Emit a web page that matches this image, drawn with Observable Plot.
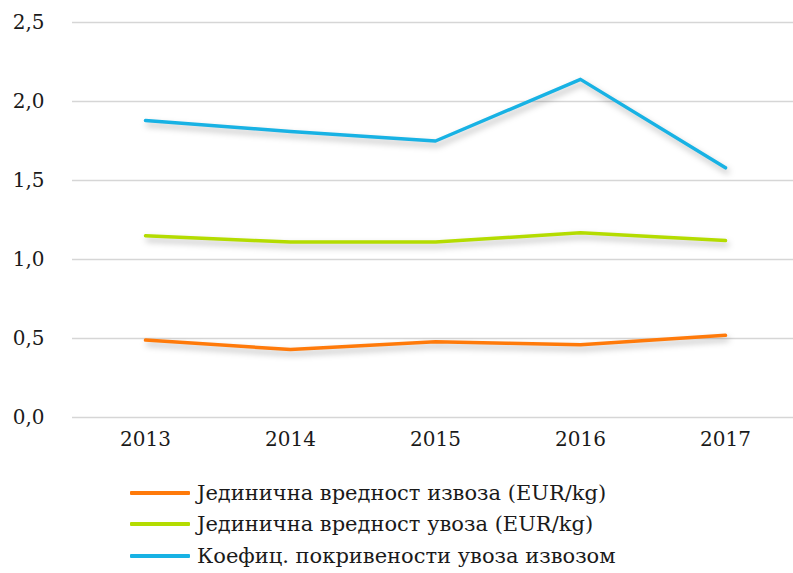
<!DOCTYPE html>
<html>
<head>
<meta charset="utf-8">
<script src="https://cdn.jsdelivr.net/npm/d3@7"></script>
<script src="https://cdn.jsdelivr.net/npm/@observablehq/plot@0.6"></script>
<style>
  body { margin: 0; background: #fff; }
  #chart { width: 793px; height: 573px; overflow: hidden; font-family: "DejaVu Serif", serif; color: #1a1a1a; }
  .legend { margin-left: 130px; margin-top: 15px; }
  .row { display: flex; align-items: center; height: 31.5px; font-size: 21px; white-space: nowrap; }
  .sw { width: 60px; height: 4px; margin-right: 7px; border-radius: 1px; }
</style>
</head>
<body>
<div id="chart"></div>
<script>
const years = ["2013", "2014", "2015", "2016", "2017"];
const seriesNames = [
  "Јединична вредност извоза (EUR/kg)",
  "Јединична вредност увоза (EUR/kg)",
  "Коефиц. покривености увоза извозом"
];
const exportValue = [0.49, 0.43, 0.48, 0.46, 0.52];
const importValue = [1.15, 1.11, 1.11, 1.17, 1.12];
const coverage = [1.88, 1.81, 1.75, 2.14, 1.58];
const yTicks = [0, 0.5, 1.0, 1.5, 2.0, 2.5];
const colors = ["#ff7a0a", "#b4dc00", "#18b2e4"];

const seriesValues = [exportValue, importValue, coverage];
const data = [];
seriesNames.forEach((s, i) => years.forEach((y, j) => data.push({series: s, year: y, value: seriesValues[i][j]})));

const fmt = d => d.toFixed(1).replace(".", ",");

const plot = Plot.plot({
  width: 793,
  height: 462,
  marginTop: 22,
  marginBottom: 45,
  marginLeft: 72,
  marginRight: 0,
  style: {fontFamily: "DejaVu Serif, serif", fontSize: "20px", color: "#1a1a1a", background: "#fff"},
  x: {type: "point", domain: years, range: [72, 797], padding: 0.5, label: null},
  y: {domain: [0, 2.5], ticks: yTicks, tickFormat: fmt, label: null},
  color: {domain: seriesNames, range: colors},
  marks: [
    Plot.ruleY(yTicks, {stroke: "#d6d6d6", strokeWidth: 1.5}),
    Plot.axisY({ticks: yTicks, tickFormat: fmt, tickSize: 0, tickPadding: 28, fontSize: 20}),
    Plot.axisX({tickSize: 0, tickPadding: 14, fontSize: 20}),
    Plot.line(data, {x: "year", y: "value", z: "series", stroke: "series", strokeWidth: 3.5})
  ]
});
plot.querySelectorAll('g[aria-label="line"]').forEach(g => g.style.filter = "drop-shadow(2px 4px 3px rgba(0,0,0,0.28))");

const chart = document.getElementById("chart");
chart.appendChild(plot);
const legend = document.createElement("div");
legend.className = "legend";
seriesNames.forEach((s, i) => {
  const row = document.createElement("div");
  row.className = "row";
  const sw = document.createElement("div");
  sw.className = "sw";
  sw.style.background = colors[i];
  const t = document.createElement("span");
  t.textContent = s;
  row.appendChild(sw);
  row.appendChild(t);
  legend.appendChild(row);
});
chart.appendChild(legend);
</script>
</body>
</html>
